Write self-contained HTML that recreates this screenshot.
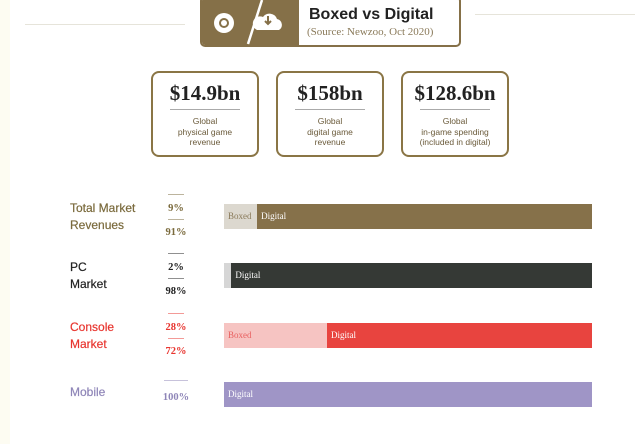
<!DOCTYPE html>
<html><head><meta charset="utf-8"><style>
body{margin:0;width:640px;height:444px;background:#fff;position:relative;overflow:hidden;font-family:"Liberation Sans",sans-serif}
.abs{position:absolute}
.card{position:absolute;top:71px;width:108px;height:86px;border:2px solid #8a7545;border-radius:8px;box-sizing:border-box;text-align:center}
.card .v{font-family:"Liberation Serif",serif;font-weight:bold;font-size:21px;color:#222;margin-top:8px;line-height:24px}
.card .hr{width:70px;margin:4px auto 6px;border-top:1px solid #aaa}
.card .t{font-size:8.5px;color:#6a5a3a;line-height:10.5px}
.lbl{position:absolute;left:70px;font-size:12px;line-height:17px;-webkit-text-stroke:0.2px currentColor}
.pct{position:absolute;left:160px;width:32px;text-align:center;font-family:"Liberation Serif",serif;font-weight:bold;font-size:10.5px}
.seg{position:absolute;font-family:"Liberation Serif",serif;font-size:9px;color:#fff;line-height:25px;padding-left:4px;box-sizing:border-box;overflow:hidden;white-space:nowrap}
</style></head><body>
<div class="abs" style="left:0;top:0;width:10px;height:444px;background:#fdfcf2"></div>
<div class="abs" style="left:25px;top:24px;width:160px;border-top:1px solid #e6e4da"></div>
<div class="abs" style="left:475px;top:14px;width:160px;border-top:1px solid #e6e4da"></div>
<div class="abs" style="left:200px;top:-4px;width:261px;height:51px;border:2px solid #857048;border-radius:5px;box-sizing:border-box;background:#fff;overflow:hidden">
 <div class="abs" style="left:0;top:0;width:97px;height:51px;background:#857048">
  <svg width="97" height="51"><circle cx="22" cy="25" r="10" fill="#fff"/><circle cx="22" cy="25" r="5" fill="#857048"/><circle cx="22" cy="25" r="3" fill="#fff"/><line x1="46" y1="46" x2="60" y2="2" stroke="#fff" stroke-width="2.5"/><path d="M55 32 h22 a6 6 0 0 0 -2 -11 a8 8 0 0 0 -14 -2 a6 6 0 0 0 -6 13z" fill="#fff"/><path d="M66 18 v8 m-3 -3 l3 3 l3 -3" stroke="#857048" stroke-width="2" fill="none"/></svg>
 </div>
 <div class="abs" style="left:107px;top:8px;font-size:16px;font-weight:bold;color:#222">Boxed vs Digital</div>
 <div class="abs" style="left:105px;top:28px;font-family:'Liberation Serif',serif;font-size:11px;color:#8a7a5a">(Source: Newzoo, Oct 2020)</div>
</div>
<div class="card" style="left:151px"><div class="v">$14.9bn</div><div class="hr"></div><div class="t">Global<br>physical game<br>revenue</div></div>
<div class="card" style="left:276px"><div class="v">$158bn</div><div class="hr"></div><div class="t">Global<br>digital game<br>revenue</div></div>
<div class="card" style="left:401px"><div class="v">$128.6bn</div><div class="hr"></div><div class="t">Global<br>in-game spending<br>(included in digital)</div></div>
<div id="rows"></div>
<script>
const markets=["Total Market\nRevenues","PC\nMarket","Console\nMarket","Mobile"];
const boxedPct=[9,2,28,0];
const digitalPct=[91,98,72,100];
const textColors=["#7a6a3c","#222","#e8352f","#8f86b8"];
const boxedColors=["#dcd8cf","#d6d6d6","#f6c4c2","#c9c4e0"];
const digitalColors=["#86714a","#353935","#e8443f","#9f95c6"];
const boxedText=["#8a7a5a","#fff","#e86060","#fff"];
const X0=224,W=368,rowTop=204,rowStep=59.3,barH=25;
const xs=v=>v/100*W;
const root=document.getElementById('rows');
markets.forEach((m,i)=>{
 const y=rowTop+i*rowStep;
 const single=m.indexOf('\n')<0;
 const l=document.createElement('div');l.className='lbl';
 
 
 l.style.top=(y-4+(single?6:0))+'px';l.style.color=textColors[i];l.innerHTML=m.replace('\n','<br>');root.appendChild(l);
 const pcts=boxedPct[i]>0?[boxedPct[i],digitalPct[i]]:[digitalPct[i]];
 pcts.forEach((p,j)=>{
  const r=document.createElement('div');r.className='abs';
  
  
  r.style.cssText=`left:${single?164:168}px;top:${y-10+j*25+(pcts.length==1?8:0)}px;width:${single?24:16}px;border-top:1px solid ${textColors[i]};opacity:.5`;root.appendChild(r);
  const t=document.createElement('div');t.className='pct';
  
  
  t.style.top=(y-1+j*24+(pcts.length==1?11:0))+'px';t.style.color=textColors[i];t.textContent=p+'%';root.appendChild(t);
 });
 const bw=xs(boxedPct[i]);
 if(bw>0){const b=document.createElement('div');b.className='seg';
  
  
  b.style.cssText+=`left:${X0}px;top:${y}px;width:${bw}px;height:${barH}px;background:${boxedColors[i]};color:${boxedText[i]}`;
  b.textContent=bw>20?'Boxed':'';root.appendChild(b);}
 const d=document.createElement('div');d.className='seg';
 
 
 d.style.cssText+=`left:${X0+bw}px;top:${y}px;width:${xs(digitalPct[i])}px;height:${barH}px;background:${digitalColors[i]}`;
 d.textContent='Digital';root.appendChild(d);
});
</script>
</body></html>
